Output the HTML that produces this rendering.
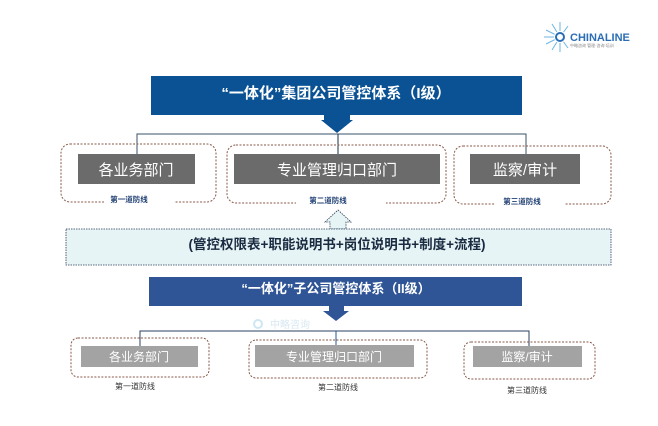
<!DOCTYPE html>
<html><head><meta charset="utf-8"><style>
html,body{margin:0;padding:0;background:#fff;width:658px;height:426px;overflow:hidden}
svg text{font-family:"Liberation Sans","Noto Sans CJK SC",sans-serif}
</style></head><body>
<svg width="658" height="426" viewBox="0 0 658 426" xmlns="http://www.w3.org/2000/svg">
<!-- logo -->
<g stroke="#6fb6e0" stroke-width="1">
<line x1="560" y1="37" x2="546" y2="30"/><line x1="560" y1="37" x2="544" y2="37"/><line x1="560" y1="37" x2="546" y2="44"/>
<line x1="560" y1="37" x2="552" y2="24"/><line x1="560" y1="37" x2="552" y2="50"/><line x1="560" y1="37" x2="560" y2="22"/><line x1="560" y1="37" x2="560" y2="52"/>
<line x1="560" y1="37" x2="568" y2="26"/><line x1="560" y1="37" x2="568" y2="48"/>
</g>
<circle cx="560" cy="37" r="6" fill="#fff"/>
<circle cx="560" cy="37" r="4" fill="none" stroke="#2a6db5" stroke-width="2"/>
<text x="570" y="41" font-size="11" font-weight="bold" fill="#2a6db5">CHINALINE</text>
<text x="570" y="47" font-size="4" fill="#888">中略咨询 管理·咨询·培训</text>

<!-- top header -->
<rect x="151" y="76" width="371" height="39" fill="#0a5294"/>
<text x="336" y="98" font-size="15" font-weight="bold" fill="#fff" text-anchor="middle">“一体化”集团公司管控体系（I级）</text>
<polygon points="324,115 350,115 350,120 353,120 337,133 321,120 324,120" fill="#0a5294"/>
<polyline points="137,155 137,134 526,134 526,155" fill="none" stroke="#3a5068" stroke-width="1"/>
<line x1="338" y1="134" x2="338" y2="155" stroke="#1a2f4a"/>

<g fill="none" stroke="#8a5a4a" stroke-width="1" stroke-dasharray="2,1.5">
<rect x="61" y="144" width="155" height="58" rx="9"/>
<rect x="227" y="145" width="219" height="58" rx="9"/>
<rect x="454" y="146" width="157" height="58" rx="9"/>
</g>
<rect x="78" y="154" width="117" height="30" fill="#6b6b6b"/>
<rect x="234" y="154" width="206" height="30" fill="#6b6b6b"/>
<rect x="470" y="154" width="110" height="30" fill="#6b6b6b"/>
<text x="136" y="175" font-size="15" fill="#fff" text-anchor="middle">各业务部门</text>
<text x="337" y="175" font-size="15" fill="#fff" text-anchor="middle">专业管理归口部门</text>
<text x="525" y="175" font-size="15" fill="#fff" text-anchor="middle">监察/审计</text>
<rect x="104" y="194" width="70" height="12" fill="#fff"/>
<rect x="296" y="195" width="90" height="12" fill="#fff"/>
<rect x="495" y="196" width="70" height="12" fill="#fff"/>
<text x="129" y="202" font-size="7.5" font-weight="bold" fill="#1f3f73" text-anchor="middle">第一道防线</text>
<text x="328" y="203" font-size="7.5" font-weight="bold" fill="#1f3f73" text-anchor="middle">第二道防线</text>
<text x="522" y="204" font-size="7.5" font-weight="bold" fill="#1f3f73" text-anchor="middle">第三道防线</text>

<!-- up arrow -->
<polygon points="338,210 351,222 346,222 346,229 330,229 330,222 325,222" fill="#e6f4f5" stroke="#2a3a55" stroke-width="0.8" stroke-dasharray="1.5,1"/>
<rect x="66" y="229" width="545" height="36" fill="#e6f4f5" stroke="#2a3a55" stroke-width="0.8" stroke-dasharray="1.5,1"/>
<text x="337" y="249" font-size="13.5" font-weight="bold" fill="#1a2a40" text-anchor="middle">(管控权限表+职能说明书+岗位说明书+制度+流程)</text>

<!-- sub header -->
<rect x="149" y="277" width="373" height="29" fill="#2f5597"/>
<text x="336" y="293" font-size="13" font-weight="bold" fill="#fff" text-anchor="middle">“一体化”子公司管控体系（II级）</text>
<polygon points="329,306 344,306 344,311 349,311 336,321 323,311 329,311" fill="#2f5597"/>
<!-- watermark -->
<circle cx="258" cy="324" r="4" fill="none" stroke="#cfe6f3" stroke-width="2"/>
<text x="270" y="328" font-size="10" fill="#d8e8f2">中略咨询</text>
<polyline points="140,346 140,331 529,331 529,346" fill="none" stroke="#2a4060" stroke-width="1"/>
<line x1="336" y1="331" x2="336" y2="346" stroke="#1f5a96"/>

<g fill="none" stroke="#8a5a4a" stroke-width="1" stroke-dasharray="2,1.5">
<rect x="71" y="338" width="138" height="39" rx="7"/>
<rect x="249" y="340" width="178" height="38" rx="7"/>
<rect x="464" y="342" width="131" height="37" rx="7"/>
</g>
<rect x="81" y="346" width="117" height="21" fill="#a3a3a3"/>
<rect x="255" y="345" width="159" height="22" fill="#a3a3a3"/>
<rect x="473" y="346" width="109" height="21" fill="#a3a3a3"/>
<text x="139" y="361" font-size="12" fill="#fff" text-anchor="middle">各业务部门</text>
<text x="334" y="361" font-size="12" fill="#fff" text-anchor="middle">专业管理归口部门</text>
<text x="527" y="361" font-size="12" fill="#fff" text-anchor="middle">监察/审计</text>
<text x="135" y="389" font-size="8" fill="#333" text-anchor="middle">第一道防线</text>
<text x="338" y="390" font-size="8" fill="#333" text-anchor="middle">第二道防线</text>
<text x="527" y="393" font-size="8" fill="#333" text-anchor="middle">第三道防线</text>
</svg>
</body></html>
